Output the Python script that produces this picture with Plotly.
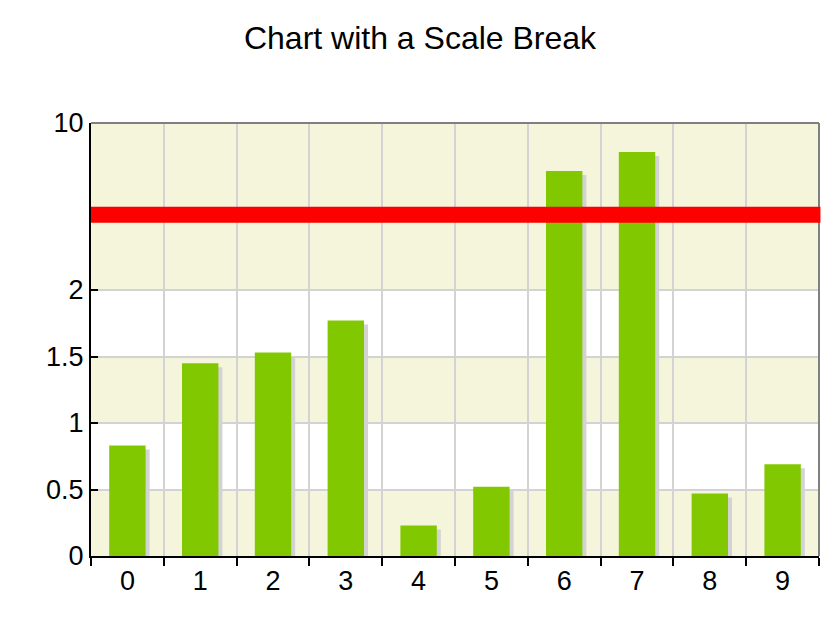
import plotly.graph_objects as go

# ---- data ----
categories = [0, 1, 2, 3, 4, 5, 6, 7, 8, 9]
values = [0.83, 1.45, 1.53, 1.77, 0.23, 0.52, 7.70, 8.61, 0.47, 0.69]
y_tick_values = [0, 0.5, 1, 1.5, 2, 10]
y_tick_labels = ["0", "0.5", "1", "1.5", "2", "10"]
break_value = 5.6

# ---- scale-break transform (0..2 linear, 2..10 compressed) ----
LOW_MAX = 2.0
TOP = 10.0
K = 20.875 / 133.0  # compression factor of upper segment


def tr(v):
    return v if v <= LOW_MAX else LOW_MAX + (v - LOW_MAX) * K


y_max = tr(TOP)
px_per_unit = 433.0 / y_max

bar_color = "#82C800"
shadow_color = "#D3D3D3"
beige = "#F5F5DC"

ty = [tr(v) for v in values]
shadow_dy = 4.0 / px_per_unit
shadow_dx = 4.0 / 72.8

fig = go.Figure()
fig.add_trace(go.Bar(
    x=categories, y=[v - shadow_dy for v in ty], width=0.5, offset=-0.25 + shadow_dx,
    marker=dict(color=shadow_color, line=dict(width=0)), hoverinfo="skip", showlegend=False,
))
fig.add_trace(go.Bar(
    x=categories, y=ty, width=0.5, offset=-0.25,
    marker=dict(color=bar_color, line=dict(width=0)),
    customdata=values, hovertemplate="%{x}: %{customdata}<extra></extra>", showlegend=False,
))

shapes = []
# background bands
for a, b in [(0, 0.5), (1, 1.5), (2, TOP)]:
    shapes.append(dict(type="rect", xref="paper", x0=0, x1=1, yref="y", y0=tr(a), y1=tr(b),
                       fillcolor=beige, line=dict(width=0), layer="below"))
# top and right border
shapes.append(dict(type="line", xref="paper", x0=0, x1=1, yref="paper", y0=1, y1=1,
                   line=dict(color="#808080", width=2), layer="above"))
shapes.append(dict(type="line", xref="paper", x0=1, x1=1, yref="paper", y0=0, y1=1,
                   line=dict(color="#808080", width=2), layer="above"))
# scale break band
shapes.append(dict(type="line", xref="paper", x0=0, x1=1.002, yref="y", y0=tr(break_value), y1=tr(break_value),
                   line=dict(color="#FF0000", width=16), layer="above"))

fig.update_layout(
    width=840, height=640,
    margin=dict(l=91, r=21, t=123, b=84),
    paper_bgcolor="white", plot_bgcolor="white",
    barmode="overlay",
    title=dict(text="Chart with a Scale Break", x=0.5, xanchor="center", y=1 - 38 / 640, yanchor="middle",
               font=dict(family="Liberation Sans, Arial, sans-serif", size=32, color="black")),
    font=dict(family="Liberation Sans, Arial, sans-serif", size=27, color="black"),
    shapes=shapes,
    xaxis=dict(
        range=[-0.5, 9.5], tickmode="array", tickvals=categories, ticktext=[str(c) for c in categories],
        ticks="", showgrid=False, zeroline=False,
        showline=True, linecolor="black", linewidth=2,
        ticklabelstandoff=0,
        minor=dict(tickmode="array", tickvals=[i - 0.5 for i in range(11)], ticks="outside",
                   ticklen=8, tickwidth=2, tickcolor="black",
                   showgrid=True, gridcolor="#D3D3D3", gridwidth=2),
    ),
    yaxis=dict(
        range=[0, y_max], tickmode="array", tickvals=[tr(v) for v in y_tick_values], ticktext=y_tick_labels,
        ticks="inside", ticklen=7, tickwidth=2, tickcolor="black",
        showgrid=True, gridcolor="#D3D3D3", gridwidth=2, zeroline=False,
        showline=True, linecolor="black", linewidth=2,
    ),
)

fig.write_html("out.html", config={"displayModeBar": False},
               post_script="document.body.style.margin='0px';document.body.style.overflow='hidden';")
